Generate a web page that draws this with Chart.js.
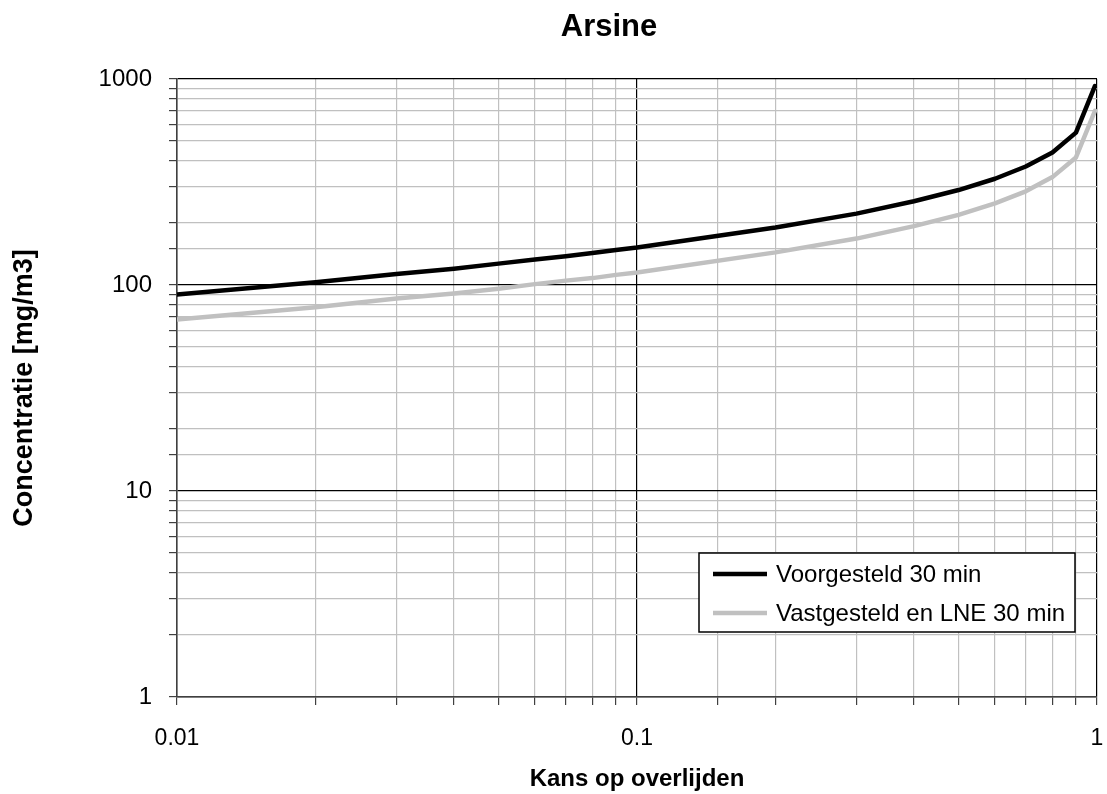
<!DOCTYPE html>
<html>
<head>
<meta charset="utf-8">
<script src="https://cdn.jsdelivr.net/npm/chart.js@4/dist/chart.umd.min.js"></script>
<style>
  body { margin: 0; background: #fff; }
</style>
</head>
<body>
<canvas id="myChart" width="1107" height="794"></canvas>
<script>
var chartTitle = "Arsine";
var xTitle = "Kans op overlijden";
var yTitle = "Concentratie [mg/m3]";

// kans (x) and concentratie per serie
var kans = [0.01, 0.02, 0.03, 0.04, 0.05, 0.06, 0.07, 0.08, 0.09, 0.1, 0.2, 0.3, 0.4, 0.5, 0.6, 0.7, 0.8, 0.9, 0.99];
var voorgesteld = [90, 103, 113, 120, 127, 133, 138, 143, 148, 152, 190, 222, 255, 289, 328, 376, 440, 549, 925];
var vastgesteld = [68, 78, 86, 91, 96, 101, 105, 108, 112, 115, 144, 168, 193, 219, 249, 285, 334, 416, 701];
var seriesNames = ["Voorgesteld 30 min", "Vastgesteld en LNE 30 min"];

var xTickLabels = {"-2": "0.01", "-1": "0.1", "0": "1"};
var yTickLabels = {"0": "1", "1": "10", "2": "100", "3": "1000"};

function pts(ys) {
    var out = [];
    for (let i = 0; i < kans.length; i++) {
        out.push({x: kans[i], y: ys[i]});
    }
    return out;
}

function isMajor(v) {
    let l = Math.log10(v);
    return Math.abs(l - Math.round(l)) < 1e-6;
}

function gridColor(ctx) {
    if (!ctx.tick) return "#c0c0c0";
    return isMajor(ctx.tick.value) ? "#000000" : "#c0c0c0";
}

var font = "Arial, 'Liberation Sans', sans-serif";

// title drawn above the plot, centred where the original has it
var titlePlugin = {
    id: "titleText",
    afterDraw: function(chart) {
        let c = chart.ctx;
        c.save();
        c.font = "bold 31px " + font;
        c.fillStyle = "#000";
        c.textAlign = "center";
        c.textBaseline = "middle";
        c.fillText(chartTitle, 609, 27);
        c.restore();
    }
};

// legend box inside the plot area
var legendBox = {
    id: "legendBox",
    afterDraw: function(chart) {
        let c = chart.ctx;
        let x0 = 699, y0 = 553, w = 376, h = 79;
        c.save();
        c.fillStyle = "#fff";
        c.fillRect(x0, y0, w, h);
        c.strokeStyle = "#000";
        c.lineWidth = 1.5;
        c.strokeRect(x0, y0, w, h);
        c.font = "24px " + font;
        c.textBaseline = "middle";
        c.textAlign = "left";
        chart.data.datasets.forEach(function(ds, i) {
            let y = y0 + 21 + i * 39;
            c.strokeStyle = ds.borderColor;
            c.lineWidth = 4.5;
            c.beginPath();
            c.moveTo(x0 + 14, y);
            c.lineTo(x0 + 68, y);
            c.stroke();
            c.fillStyle = "#000";
            c.fillText(ds.label, x0 + 77, y + 1);
        });
        c.restore();
    }
};

new Chart("myChart", {
    type: "line",
    data: {
        datasets: [
            {label: seriesNames[0], data: pts(voorgesteld), borderColor: "#000000", backgroundColor: "#000000",
             borderWidth: 4.5, pointRadius: 0, tension: 0, borderJoinStyle: "round", borderCapStyle: "round"},
            {label: seriesNames[1], data: pts(vastgesteld), borderColor: "#c0c0c0", backgroundColor: "#c0c0c0",
             borderWidth: 4.5, pointRadius: 0, tension: 0, borderJoinStyle: "round", borderCapStyle: "round"}
        ]
    },
    options: {
        responsive: false,
        animation: false,
        events: [],
        layout: {padding: {top: 79, right: 10, left: 0, bottom: 0}},
        plugins: {
            legend: {display: false},
            title: {display: false},
            tooltip: {enabled: false}
        },
        scales: {
            x: {
                type: "logarithmic",
                min: 0.01,
                max: 1,
                afterFit: function(s) { s.height = 97; s.paddingLeft = 0; s.paddingRight = 0; },
                grid: {color: gridColor, lineWidth: 1.2, tickLength: 8, tickColor: "#404040"},
                border: {color: "#404040", width: 1.5},
                ticks: {
                    autoSkip: false,
                    maxRotation: 0,
                    padding: 20,
                    color: "#000",
                    font: {family: font, size: 23},
                    callback: function(v) {
                        if (!isMajor(v)) return "";
                        return xTickLabels[String(Math.round(Math.log10(v)))];
                    }
                },
                title: {display: true, text: xTitle, color: "#000",
                        font: {family: font, size: 24, weight: "bold"}, padding: {top: 0, bottom: 0}}
            },
            y: {
                type: "logarithmic",
                min: 1,
                max: 1000,
                afterFit: function(s) { s.width = 177; },
                grid: {color: gridColor, lineWidth: 1.2, tickLength: 8, tickColor: "#404040"},
                border: {color: "#404040", width: 1.5},
                ticks: {
                    autoSkip: false,
                    padding: 17,
                    color: "#000",
                    font: {family: font, size: 24},
                    callback: function(v) {
                        if (!isMajor(v)) return "";
                        return yTickLabels[String(Math.round(Math.log10(v)))];
                    }
                },
                title: {display: true, text: yTitle, color: "#000",
                        font: {family: font, size: 27, weight: "bold"}, padding: {top: 8, bottom: 0}}
            }
        }
    },
    plugins: [titlePlugin, legendBox]
});
</script>
</body>
</html>
